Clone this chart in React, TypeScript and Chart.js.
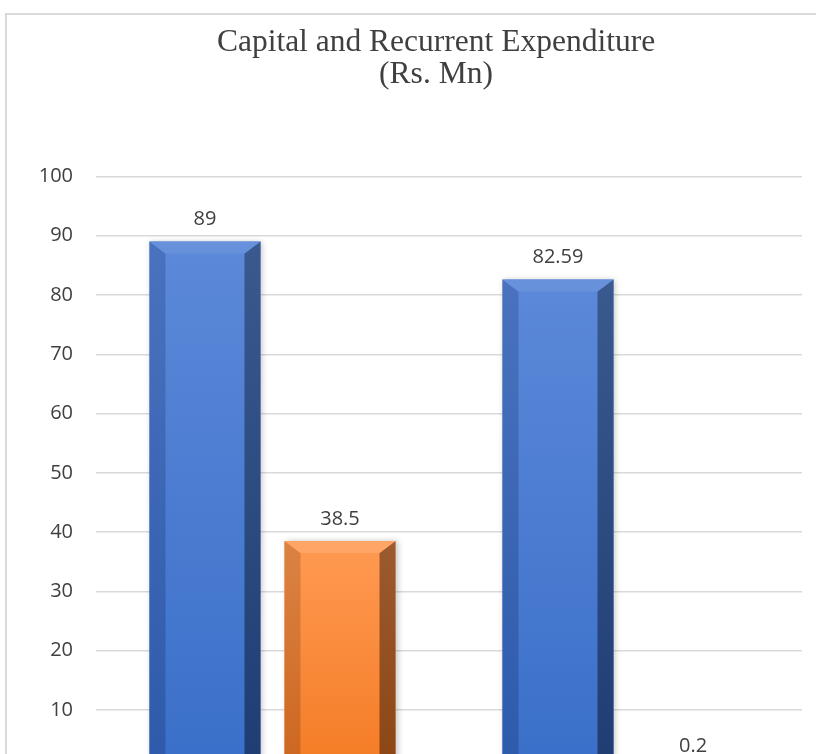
import React, { useEffect, useRef } from 'react';
import { Chart, registerables } from 'chart.js';

Chart.register(...registerables);

// ---- data ----
const CATEGORIES = ['Allocation', 'Expenditure'];
const SERIES_NAMES = ['Capital', 'Recurrent'];
const BLUE_VALUES = [89, 82.59];
const ORANGE_VALUES = [38.5, 0.2];
const TITLE_LINES = ['Capital and Recurrent Expenditure', '(Rs. Mn)'];
const Y_MIN = 0;
const Y_MAX = 100;
const Y_STEP = 10;

type Pal = { faceTop: string; faceBot: string; leftTop: string; leftBot: string; rightTop: string; rightBot: string; top: string };
const PALETTES: Pal[] = [
  { faceTop: '#5c89d9', faceBot: '#3a6fc9', leftTop: '#4a72be', leftBot: '#2d5aaa', rightTop: '#39598f', rightBot: '#1f3d73', top: '#6891dc' },
  { faceTop: '#ff9a52', faceBot: '#f47b25', leftTop: '#db8344', leftBot: '#cc661f', rightTop: '#9c5a30', rightBot: '#8b4613', top: '#ffa566' },
];

const LABEL_FONT = "20px 'Open Sans', 'DejaVu Sans', sans-serif";

function vgrad(ctx: CanvasRenderingContext2D, y0: number, y1: number, c0: string, c1: string) {
  const g = ctx.createLinearGradient(0, y0, 0, Math.max(y1, y0 + 0.01));
  g.addColorStop(0, c0);
  g.addColorStop(1, c1);
  return g;
}

const bevelPlugin = {
  id: 'bevel',
  beforeDatasetsDraw(chart: any) {
    const ctx = chart.ctx as CanvasRenderingContext2D;
    ctx.save();
    ctx.shadowColor = 'rgba(0,0,0,0.22)';
    ctx.shadowBlur = 6;
    ctx.shadowOffsetX = 2;
    ctx.shadowOffsetY = 0;
  },
  afterDatasetsDraw(chart: any) {
    const ctx = chart.ctx as CanvasRenderingContext2D;
    ctx.restore();
    chart.data.datasets.forEach((ds: any, di: number) => {
      const meta = chart.getDatasetMeta(di);
      const pal = PALETTES[di];
      meta.data.forEach((el: any, i: number) => {
        const { x, y, base, width } = el.getProps(['x', 'y', 'base', 'width'], true);
        const l = x - width / 2;
        const r = x + width / 2;
        const h = base - y;
        const bw = Math.min(16, width / 2, h);
        const bh = Math.min(12, h);
        ctx.save();
        ctx.beginPath();
        ctx.moveTo(l, y);
        ctx.lineTo(l + bw, y + bh);
        ctx.lineTo(l + bw, base);
        ctx.lineTo(l, base);
        ctx.closePath();
        ctx.fillStyle = vgrad(ctx, y, base, pal.leftTop, pal.leftBot);
        ctx.fill();
        ctx.beginPath();
        ctx.moveTo(r, y);
        ctx.lineTo(r - bw, y + bh);
        ctx.lineTo(r - bw, base);
        ctx.lineTo(r, base);
        ctx.closePath();
        ctx.fillStyle = vgrad(ctx, y, base, pal.rightTop, pal.rightBot);
        ctx.fill();
        ctx.beginPath();
        ctx.moveTo(l, y);
        ctx.lineTo(r, y);
        ctx.lineTo(r - bw, y + bh);
        ctx.lineTo(l + bw, y + bh);
        ctx.closePath();
        ctx.fillStyle = pal.top;
        ctx.fill();
        ctx.restore();

        const v = ds.data[i];
        ctx.save();
        ctx.font = LABEL_FONT;
        ctx.fillStyle = '#404040';
        ctx.textAlign = 'center';
        ctx.textBaseline = 'middle';
        ctx.fillText(String(v), x, y - 22);
        ctx.restore();
      });
    });
  },
};

function faceColor(di: number) {
  return (c: any) => {
    const chart = c.chart;
    const pal = PALETTES[di];
    if (!chart.chartArea || c.raw == null) return pal.faceBot;
    const ys = chart.scales.y;
    const top = ys.getPixelForValue(c.raw);
    const bot = ys.getPixelForValue(0);
    return vgrad(chart.ctx, top, bot, pal.faceTop, pal.faceBot);
  };
}

export default function App() {
  const ref = useRef<HTMLCanvasElement | null>(null);
  useEffect(() => {
    if (!ref.current) return;
    const chart = new Chart(ref.current, {
      type: 'bar',
      data: {
        labels: CATEGORIES,
        datasets: [
          {
            label: SERIES_NAMES[0],
            data: BLUE_VALUES,
            backgroundColor: faceColor(0),
            borderWidth: 0,
            categoryPercentage: 0.765,
            barPercentage: 0.822,
          },
          {
            label: SERIES_NAMES[1],
            data: ORANGE_VALUES,
            backgroundColor: faceColor(1),
            borderWidth: 0,
            categoryPercentage: 0.765,
            barPercentage: 0.822,
          },
        ],
      },
      options: {
        responsive: false,
        animation: false,
        devicePixelRatio: 1,
        layout: { padding: { left: 0, right: 0, top: 0, bottom: 51.6 } },
        plugins: {
          legend: { display: false },
          tooltip: { enabled: false },
          title: {
            display: true,
            text: TITLE_LINES,
            color: '#404040',
            font: { family: "'Liberation Serif', 'Times New Roman', serif", size: 31.5, weight: 'normal', lineHeight: 1.02 },
            padding: { top: 12, bottom: 85.1 },
          },
        },
        scales: {
          x: {
            grid: { display: false },
            border: { display: true, color: '#d9d9d9' },
            ticks: { color: '#404040', font: { family: "'Open Sans', sans-serif", size: 20 } },
            afterFit: (s: any) => { s.height = 50; },
          },
          y: {
            min: Y_MIN,
            max: Y_MAX,
            ticks: { stepSize: Y_STEP, color: '#404040', padding: 23, font: { family: "'Open Sans', sans-serif", size: 20 } },
            grid: { color: '#d9d9d9', lineWidth: 1.5, drawTicks: false },
            border: { display: false },
            afterFit: (s: any) => { s.width = 89; },
          },
          yRight: {
            position: 'right',
            display: true,
            grid: { display: false, drawTicks: false },
            border: { display: false },
            ticks: { display: false },
            afterFit: (s: any) => { s.width = 63; },
          },
        },
      },
      plugins: [bevelPlugin],
    } as any);
    return () => chart.destroy();
  }, []);

  return (
    <div style={{ position: 'fixed', left: 0, top: 0, width: 816, height: 754, overflow: 'hidden', background: '#fff' }}>
      <div style={{ position: 'absolute', left: 5, top: 13, width: 862, height: 860, border: '2px solid #d9d9d9', boxSizing: 'border-box', background: '#fff' }}>
        <canvas ref={ref} width={858} height={856} style={{ display: 'block', width: 858, height: 856 }} />
      </div>
    </div>
  );
}
